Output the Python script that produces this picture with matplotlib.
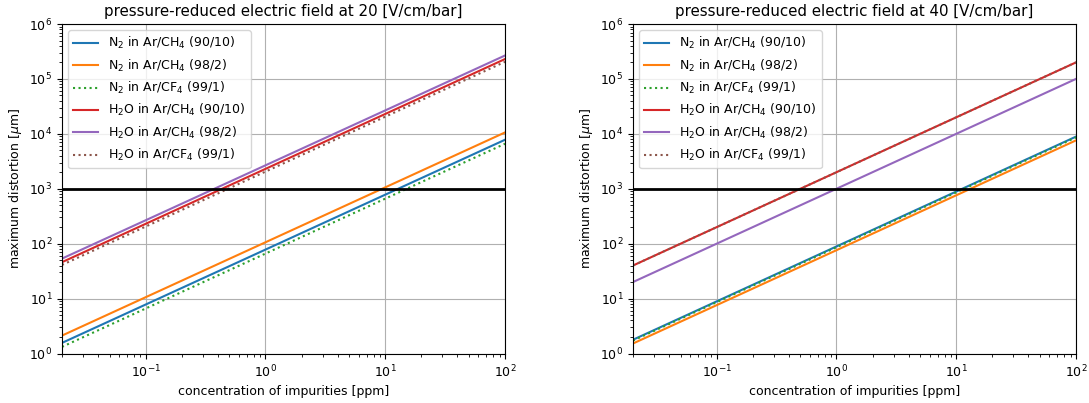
import matplotlib
matplotlib.use("Agg")
import matplotlib.pyplot as plt

# concentration of impurities [ppm]
conc = [0.02, 0.1, 1, 10, 100]

labels = [r'N$_2$ in Ar/CH$_4$ (90/10)', r'N$_2$ in Ar/CH$_4$ (98/2)', r'N$_2$ in Ar/CF$_4$ (99/1)',
          r'H$_2$O in Ar/CH$_4$ (90/10)', r'H$_2$O in Ar/CH$_4$ (98/2)', r'H$_2$O in Ar/CF$_4$ (99/1)']

# maximum distortion [um] at E/p = 20 V/cm/bar
d20_n2_9010 = [1.56, 7.8, 78, 780, 7800]
d20_n2_982 = [2.12, 10.6, 106, 1060, 10600]
d20_n2_cf4 = [1.32, 6.6, 66, 660, 6600]
d20_h2o_9010 = [46, 230, 2300, 23000, 230000]
d20_h2o_982 = [53.5, 267, 2670, 26700, 267000]
d20_h2o_cf4 = [41, 205, 2050, 20500, 205000]

# maximum distortion [um] at E/p = 40 V/cm/bar
d40_n2_9010 = [1.78, 8.9, 89, 890, 8900]
d40_n2_982 = [1.52, 7.6, 76, 760, 7600]
d40_n2_cf4 = [1.72, 8.6, 86, 860, 8600]
d40_h2o_9010 = [40, 200, 2000, 20000, 200000]
d40_h2o_982 = [20, 100, 1000, 10000, 100000]
d40_h2o_cf4 = [40, 200, 2000, 20000, 200000]

fields = [20, 40]
series = [
    [d20_n2_9010, d20_n2_982, d20_n2_cf4, d20_h2o_9010, d20_h2o_982, d20_h2o_cf4],
    [d40_n2_9010, d40_n2_982, d40_n2_cf4, d40_h2o_9010, d40_h2o_982, d40_h2o_cf4],
]
colors = ['C0', 'C1', 'C2', 'C3', 'C4', 'C5']
styles = ['-', '-', ':', '-', '-', ':']
limit = 1000

plt.rcParams['xtick.labelsize'] = 9
plt.rcParams['ytick.labelsize'] = 9

fig = plt.figure(figsize=(10.89, 4.03), dpi=100)
lefts = [62 / 1089, 633 / 1089]
for k, (field, ser) in enumerate(zip(fields, series)):
    ax = fig.add_axes([lefts[k], 1 - 353.5 / 403, 443 / 1089, 329.5 / 403])
    for vals, lab, c, ls in zip(ser, labels, colors, styles):
        ax.plot(conc, vals, color=c, ls=ls, label=lab, lw=1.5)
    ax.axhline(limit, color='black', lw=2)
    ax.set_xscale('log')
    ax.set_yscale('log')
    ax.set_xlim(0.02, 100)
    ax.set_ylim(1, 1e6)
    ax.grid(True)
    ax.set_xlabel('concentration of impurities [ppm]', fontsize=9)
    ax.set_ylabel(r'maximum distortion [$\mu$m]', fontsize=9)
    ax.set_title(f'pressure-reduced electric field at {field} [V/cm/bar]', fontsize=10.8)
    ax.legend(loc='upper left', fontsize=9)

fig.savefig('out.png', dpi=100)
